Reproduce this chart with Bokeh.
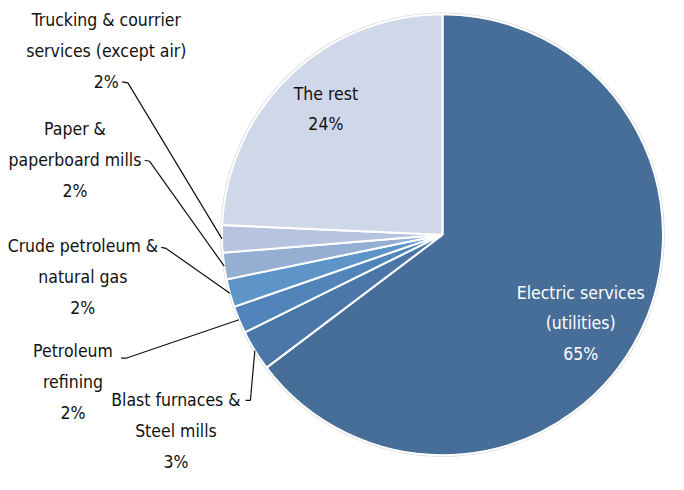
import numpy as np
from bokeh.plotting import figure
from bokeh.models import Range1d
from bokeh.core.properties import value
from bokeh.embed import file_html
from bokeh.resources import INLINE

# ---- data ----
categories = ["Electric services (utilities)", "Blast furnaces & Steel mills",
              "Petroleum refining", "Crude petroleum & natural gas",
              "Paper & paperboard mills", "Trucking & courrier services (except air)",
              "The rest"]
shares = [64.7, 3.0, 2.0, 2.05, 1.95, 2.0, 24.3]
pct_labels = ["65%", "3%", "2%", "2%", "2%", "2%", "24%"]
label_lines = [
    ["Electric services", "(utilities)"],
    ["Blast furnaces &", "Steel mills"],
    ["Petroleum", "refining"],
    ["Crude petroleum &", "natural gas"],
    ["Paper &", "paperboard mills"],
    ["Trucking & courrier", "services (except air)"],
    ["The rest"],
]
colors = ["#466e98", "#4b77a8", "#5184bb", "#5d95c9", "#95afd3", "#b6c4df", "#cfd8e8"]

# ---- layout (reference pixel coords, y measured downward) ----
W, H = 668, 474
S, OX, OY = 0.98, 6, 4          # view scale and offset
CX, CY, R = 457, 243, 225
FONT = "DejaVu Sans Condensed"
FS = "17.5px"
LINE = 31.5
label_pos = [
    (598, 302),
    (185, 412),
    (80, 362),
    (90, 255),
    (82, 135),
    (114, 24),
    (338, 99),
]
leader_start = {
    1: (256, 412, 261, 412),
    2: (129, 369, 134, 369),
    3: (170, 256, 175, 257),
    4: (153, 167, 158, 168),
    5: (130, 87, 136, 88),
}

def Y(y):
    return 490 - y

p = figure(width=W, height=H, output_backend="svg", toolbar_location=None,
           x_range=Range1d(OX, OX + W / S), y_range=Range1d(490 - OY - H / S, 490 - OY),
           min_border=0, outline_line_color=None)
p.axis.visible = False
p.grid.visible = False
p.background_fill_color = "white"
p.border_fill_color = "white"

vals = np.array(shares, dtype=float)
frac = vals / vals.sum()
cum = np.concatenate([[0], np.cumsum(frac)])
start = np.pi / 2 - 2 * np.pi * cum[1:]
end = np.pi / 2 - 2 * np.pi * cum[:-1]

p.circle(x=[CX], y=[Y(CY)], radius=R + 1, fill_color=None,
         line_color="#dadada", line_width=1.5)
p.wedge(x=CX, y=Y(CY), radius=R, start_angle=start, end_angle=end,
        direction="anticlock", fill_color=colors, line_color="white", line_width=2)

for i, (lines, pct) in enumerate(zip(label_lines, pct_labels)):
    x0, y0 = label_pos[i]
    all_lines = lines + [pct]
    col = "white" if i == 0 else "#111111"
    ys = [Y(y0 + k * LINE) for k in range(len(all_lines))]
    p.text(x=[x0] * len(all_lines), y=ys, text=all_lines,
           text_align="center", text_baseline="middle",
           text_font=value(FONT), text_font_size=FS, text_color=col)

mid = (cum[:-1] + cum[1:]) / 2
for i, (x0, y0, x1, y1) in leader_start.items():
    th = 2 * np.pi * mid[i]
    ex = CX + R * np.sin(th)
    ey = CY - R * np.cos(th)
    p.line(x=[x0, x1, ex], y=[Y(y0), Y(y1), Y(ey)], line_color="#111111", line_width=1.2)

open("out.html", "w").write(file_html(p, INLINE))
